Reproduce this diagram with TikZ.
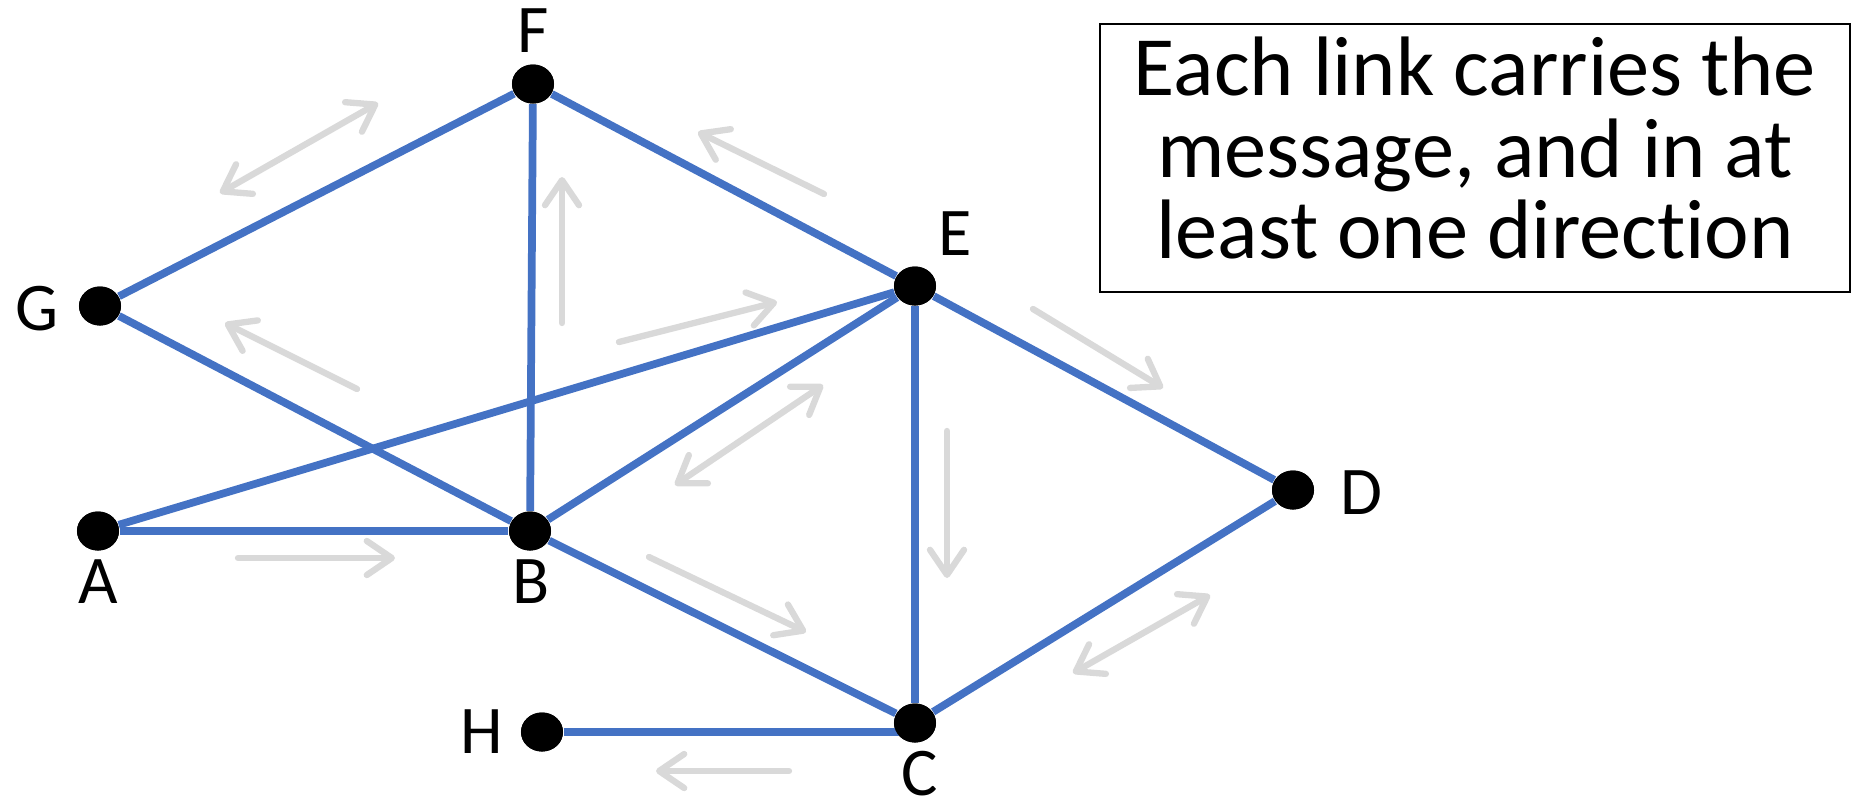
\documentclass[tikz,border=0pt]{standalone}
\usepackage{fontspec}
\setmainfont{Carlito}[Ligatures=NoCommon]
\usetikzlibrary{arrows.meta,positioning,shapes.geometric}
\definecolor{linkblue}{RGB}{68,114,196}
\definecolor{flowgray}{RGB}{217,217,217}

\begin{document}
\begin{tikzpicture}[x=0.01cm,y=-0.01cm,
 dot/.style={ellipse,fill=black,inner sep=0pt,minimum width=4.2mm,minimum height=3.9mm},
 lbl/.style={anchor=base,inner sep=0pt,font=\fontsize{19.4}{23}\selectfont},
 link/.style={draw=linkblue,line width=2.2pt},
 flow/.style={draw=flowgray,line width=1.8pt,line cap=round,-{Straight Barb[length=2.5mm,width=3.4mm,round]}},
 flowboth/.style={flow,{Straight Barb[length=2.5mm,width=3.4mm,round]}-{Straight Barb[length=2.5mm,width=3.4mm,round]}},
 msgbox/.style={draw=black,line width=0.6pt,minimum width=7.5cm,minimum height=2.68cm,align=center,
   text depth=2mm,font=\fontsize{24}{23.2}\selectfont}]
\useasboundingbox (0,0) rectangle (1860,805);
% routers
\node[dot] (A) at (98,531) {};
\node[dot] (B) at (530,531) {};
\node[dot] (C) at (915,723) {};
\node[dot] (D) at (1293,490) {};
\node[dot] (E) at (915,286) {};
\node[dot] (F) at (533,84) {};
\node[dot] (G) at (100,306) {};
\node[dot] (H) at (542,732) {};
% names
\node[lbl] (lA) at (98,603) {A};
\node[lbl] (lB) at (531,603) {B};
\node[lbl] (lC) at (920,795) {C};
\node[lbl] (lD) at (1361,514) {D};
\node[lbl] (lE) at (955,255) {E};
\node[lbl] (lF) at (533,52) {F};
\node[lbl] (lG) at (37,330) {G};
\node[lbl] (lH) at (482,753) {H};
% links
\draw[link] (G)--(F);
\draw[link] (F)--(E);
\draw[link] (F)--(B);
\draw[link] (G)--(B);
\draw[link] (A)--(E);
\draw[link] (A)--(B);
\draw[link] (B)--(E);
\draw[link] (B)--(C);
\draw[link] (E)--(C);
\draw[link] (E)--(D);
\draw[link] (D)--(C);
\draw[link] (H)--(H-|C);
\foreach \r in {A,B,C,D,E,F,G,H}
  \node[dot] at (\r) {};
% message flow
\coordinate (ab1) at (238,558); \coordinate (ab2) at (395,558);
\coordinate (gf1) at (220,193); \coordinate (gf2) at (378,103);
\coordinate (bg1) at (357,389); \coordinate (bg2) at (225,323);
\coordinate (bf1) at (562,323); \coordinate (bf2) at (562,177);
\coordinate (ae1) at (619,342); \coordinate (ae2) at (777,302);
\coordinate (ef1) at (824,194); \coordinate (ef2) at (698,132);
\coordinate (be1) at (675,485); \coordinate (be2) at (823,385);
\coordinate (ed1) at (1033,309); \coordinate (ed2) at (1163,388);
\coordinate (ec1) at (947,431); \coordinate (ec2) at (947,578);
\coordinate (bc1) at (649,557); \coordinate (bc2) at (806,632);
\coordinate (cd1) at (1073,673); \coordinate (cd2) at (1210,595);
\coordinate (ch1) at (789,771); \coordinate (ch2) at (656,771);
\draw[flow] (ab1)--(ab2);
\draw[flowboth] (gf1)--(gf2);
\draw[flow] (bg1)--(bg2);
\draw[flow] (bf1)--(bf2);
\draw[flow] (ae1)--(ae2);
\draw[flow] (ef1)--(ef2);
\draw[flowboth] (be1)--(be2);
\draw[flow] (ed1)--(ed2);
\draw[flow] (ec1)--(ec2);
\draw[flow] (bc1)--(bc2);
\draw[flowboth] (cd1)--(cd2);
\draw[flow] (ch1)--(ch2);
% caption
\node[msgbox] (note) at (1475,158) {Each link carries the\\message, and in at\\least one direction};
\end{tikzpicture}
\end{document}
